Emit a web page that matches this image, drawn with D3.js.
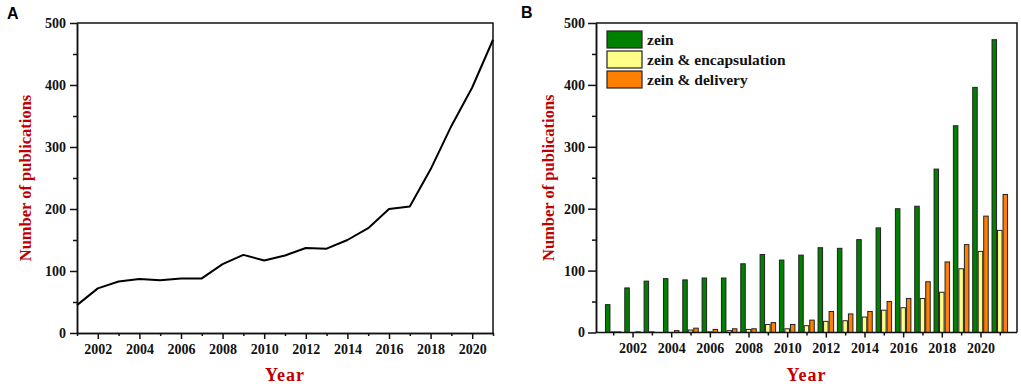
<!DOCTYPE html>
<html>
<head>
<meta charset="utf-8">
<script src="https://cdn.jsdelivr.net/npm/d3@7/dist/d3.min.js"></script>
<style>
  html, body { margin: 0; padding: 0; background: #fff; }
  svg { display: block; }
  .tick text { font-family: "Liberation Serif", "Times New Roman", serif; font-weight: bold; font-size: 14px; fill: #111; }
</style>
</head>
<body>
<svg id="chart" width="1021" height="384"></svg>
<script>
// ---- data ----
const years = [2001, 2002, 2003, 2004, 2005, 2006, 2007, 2008, 2009, 2010, 2011,
               2012, 2013, 2014, 2015, 2016, 2017, 2018, 2019, 2020, 2021];
const zein = [45, 72, 83, 87, 85, 88, 88, 111, 126, 117, 125,
              137, 136, 150, 169, 200, 204, 264, 334, 396, 473];
const zeinEncapsulation = [1, 0, 1, 0, 4, 1, 3, 5, 13, 6, 11,
                           18, 19, 25, 36, 40, 55, 65, 103, 131, 165];
const zeinDelivery = [1, 1, 0, 3, 7, 5, 6, 6, 16, 13, 20,
                      34, 30, 34, 50, 55, 82, 114, 142, 188, 223];
const seriesNames = ["zein", "zein & encapsulation", "zein & delivery"];
const seriesColors = ["#008000", "#ffff88", "#ff8000"];
const yTicks = [0, 100, 200, 300, 400, 500];
const yMinorTicks = [50, 150, 250, 350, 450];
const xLabelYears = [2002, 2004, 2006, 2008, 2010, 2012, 2014, 2016, 2018, 2020];
const yTitle = "Number of publications";
const xTitle = "Year";

const svg = d3.select("#chart");
const red = "#c00000";
const serif = '"Liberation Serif", "Times New Roman", serif';

function styleAxis(g) {
  g.selectAll(".domain").attr("stroke", "#111").attr("stroke-width", 1.5);
  g.selectAll(".tick line").attr("stroke", "#111").attr("stroke-width", 1.5);
}

function frame(x0, x1, y0, y1) {
  svg.append("path")
    .attr("d", `M${x0},${y0}H${x1}V${y1}`)
    .attr("fill", "none").attr("stroke", "#111").attr("stroke-width", 1.5);
}

function titles(cx, cy, ytx) {
  svg.append("text")
    .attr("x", cx).attr("y", 381)
    .attr("text-anchor", "middle")
    .attr("font-family", serif).attr("font-weight", "bold")
    .attr("font-size", 18).attr("fill", red).attr("letter-spacing", 1)
    .text(xTitle);
  svg.append("text")
    .attr("transform", `translate(${ytx},${cy}) rotate(-90)`)
    .attr("text-anchor", "middle")
    .attr("font-family", serif).attr("font-weight", "bold")
    .attr("font-size", 16.5).attr("fill", red)
    .text(yTitle);
}

// ================= Panel A =================
{
  const L = 77, R = 493, T = 23, B = 333;
  const x = d3.scaleLinear().domain([2001, 2021]).range([L, R]);
  const y = d3.scaleLinear().domain([0, 500]).range([B, T]);

  svg.append("g").attr("transform", `translate(0,${B})`)
    .call(d3.axisBottom(x).tickValues(years.filter(v => v % 2 === 1)).tickSize(3).tickSizeOuter(0).tickFormat(""))
    .call(styleAxis);
  svg.append("g").attr("transform", `translate(${L},0)`)
    .call(d3.axisLeft(y).tickValues(yMinorTicks).tickSize(4).tickSizeOuter(0).tickFormat(""))
    .call(styleAxis);
  svg.append("g").attr("transform", `translate(0,${B})`)
    .call(d3.axisBottom(x).tickValues(xLabelYears).tickSize(6).tickSizeOuter(0).tickFormat(d3.format("d")).tickPadding(5))
    .call(styleAxis);
  svg.append("g").attr("transform", `translate(${L},0)`)
    .call(d3.axisLeft(y).tickValues(yTicks).tickSize(7).tickSizeOuter(0).tickPadding(4))
    .call(styleAxis);
  frame(L, R, T, B);

  const line = d3.line().x((d, i) => x(years[i])).y(d => y(d));
  svg.append("path").datum(zein)
    .attr("d", line).attr("fill", "none")
    .attr("stroke", "#000").attr("stroke-width", 2).attr("stroke-linejoin", "round");

  titles((L + R) / 2, (T + B) / 2, 31);
  svg.append("text").attr("x", 7).attr("y", 19)
    .attr("font-family", '"Liberation Sans", Arial, sans-serif').attr("font-weight", "bold")
    .attr("font-size", 16).text("A");
}

// ================= Panel B =================
{
  const L = 596, R = 1017, T = 23, B = 332.5;
  const x = d3.scaleBand().domain(years).range([L, R]).paddingInner(0.146).paddingOuter(0.463);
  const xs = d3.scaleBand().domain([0, 1, 2]).range([0, x.bandwidth()]);
  const y = d3.scaleLinear().domain([0, 500]).range([B, T]);
  const data = [zein, zeinEncapsulation, zeinDelivery];

  const groups = svg.append("g").selectAll("g").data(years).join("g")
    .attr("transform", d => `translate(${x(d)},0)`);
  groups.selectAll("rect").data((yr, i) => data.map((s, k) => ({ k, v: s[i] })))
    .join("rect")
    .attr("x", d => xs(d.k) + 0.5)
    .attr("width", xs.bandwidth() - 1)
    .attr("y", d => y(d.v))
    .attr("height", d => B - y(d.v))
    .attr("fill", d => seriesColors[d.k])
    .attr("stroke", "#222").attr("stroke-width", 1);

  const xc = d3.scalePoint().domain(years).range([x(2001) + x.bandwidth() / 2, x(2021) + x.bandwidth() / 2]);
  svg.append("g").attr("transform", `translate(0,${B})`)
    .call(d3.axisBottom(xc).tickValues(years.filter(v => v % 2 === 1)).tickSize(3).tickSizeOuter(0).tickFormat(""))
    .call(g => g.select(".domain").remove())
    .call(styleAxis);
  svg.append("g").attr("transform", `translate(0,${B})`)
    .call(d3.axisBottom(xc).tickValues(xLabelYears).tickSize(5).tickSizeOuter(0).tickFormat(d3.format("d")).tickPadding(6))
    .call(g => g.select(".domain").remove())
    .call(styleAxis);
  svg.append("line").attr("x1", L).attr("x2", R).attr("y1", B).attr("y2", B)
    .attr("stroke", "#111").attr("stroke-width", 1.5);
  svg.append("g").attr("transform", `translate(${L},0)`)
    .call(d3.axisLeft(y).tickValues(yMinorTicks).tickSize(4).tickSizeOuter(0).tickFormat(""))
    .call(styleAxis);
  svg.append("g").attr("transform", `translate(${L},0)`)
    .call(d3.axisLeft(y).tickValues(yTicks).tickSize(8).tickSizeOuter(0).tickPadding(3))
    .call(styleAxis);
  frame(L, R, T, B);

  // legend
  const leg = svg.append("g").attr("transform", "translate(607,31)");
  const li = leg.selectAll("g").data(seriesNames).join("g")
    .attr("transform", (d, i) => `translate(0,${i * 20})`);
  li.append("rect").attr("width", 35).attr("height", 17)
    .attr("fill", (d, i) => seriesColors[i]).attr("stroke", "#222").attr("stroke-width", 1.2);
  li.append("text").attr("x", 40).attr("y", 13.5)
    .attr("font-family", serif).attr("font-weight", "bold").attr("font-size", 15.5)
    .attr("fill", "#111").text(d => d);

  titles((L + R) / 2, (T + B) / 2, 554);
  svg.append("text").attr("x", 521).attr("y", 18)
    .attr("font-family", '"Liberation Sans", Arial, sans-serif').attr("font-weight", "bold")
    .attr("font-size", 16).text("B");
}
</script>
</body>
</html>
